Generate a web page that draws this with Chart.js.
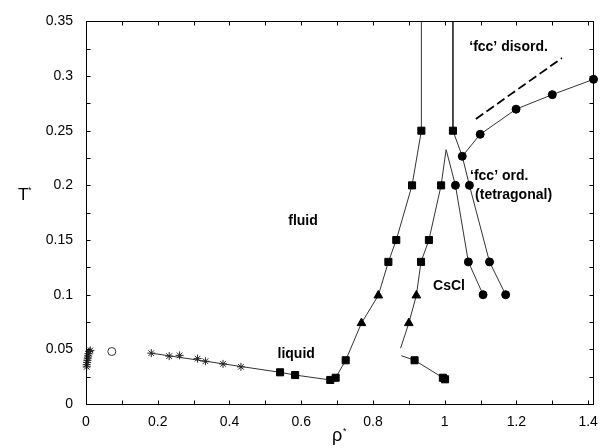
<!DOCTYPE html>
<html>
<head>
<meta charset="utf-8">
<script src="https://cdn.jsdelivr.net/npm/chart.js@4/dist/chart.umd.min.js"></script>
<style>
html,body{margin:0;padding:0;background:#fff;}
canvas{display:block;}
</style>
</head>
<body>
<canvas id="c" width="608" height="448"></canvas>
<script>
// ---- data (rho*, T*) ----
const clusterX = [0.002,0.002,0.003,0.004,0.005,0.006,0.007,0.009,0.012];
const clusterY = [0.034,0.036,0.038,0.040,0.042,0.044,0.046,0.048,0.049];
const starX = [0.182,0.232,0.261,0.311,0.333,0.382,0.432];
const starY = [0.0465,0.0438,0.0445,0.0415,0.0391,0.0367,0.034];
const openX = [0.072];
const openY = [0.048];
const squareX = [0.541,0.583,0.681,0.696,0.724,0.843,0.865,0.909,0.935,0.934,0.956,0.990,1.023,0.916,0.995,1.001];
const squareY = [0.029,0.0265,0.022,0.024,0.040,0.130,0.150,0.200,0.250,0.130,0.150,0.200,0.250,0.040,0.024,0.0226];
const triX = [0.768,0.815,0.900,0.921];
const triY = [0.074,0.0993,0.074,0.0993];
const circX = [1.030,1.066,1.107,1.049,1.069,1.125,1.170,1.099,1.199,1.300,1.415];
const circY = [0.200,0.130,0.100,0.2266,0.200,0.130,0.100,0.2467,0.2697,0.283,0.297];
// boundary lines
const fluidLineX = [0.182,0.541,0.583,0.681,0.696,0.724,0.768,0.815,0.843,0.865,0.909,0.935,0.935];
const fluidLineY = [0.0465,0.029,0.0265,0.022,0.024,0.040,0.074,0.0993,0.130,0.150,0.200,0.250,0.350];
const csclLineX = [0.877,0.900,0.921,0.934,0.956,0.990,1.004,1.030,1.066,1.107];
const csclLineY = [0.051,0.074,0.0993,0.130,0.150,0.200,0.2327,0.200,0.130,0.100];
const fccLineX = [1.023,1.023,1.049,1.069,1.125,1.170];
const fccLineY = [0.350,0.250,0.2266,0.200,0.130,0.100];
const upperLineX = [1.049,1.099,1.199,1.300,1.415];
const upperLineY = [0.2266,0.2467,0.2697,0.283,0.297];
const lowLineX = [0.879,0.916,0.995,1.001];
const lowLineY = [0.0442,0.040,0.024,0.0226];
const dashX = [1.087,1.327];
const dashY = [0.2608,0.3165];
// axis ticks
const xMin = 0, xMax = 1.4142, xStep = 0.2, xMinor = 0.1;
const yMin = 0, yMax = 0.35, yStep = 0.05, yMinor = 0.025;
// labels: [text, rho, T]
const labelText = ["fluid","liquid","CsCl","\u2018fcc\u2019 ord.","(tetragonal)","\u2018fcc\u2019 disord."];
const labelX = [0.605,0.586,1.012,1.152,1.192,1.178];
const labelY = [0.1676,0.0454,0.1075,0.2080,0.1907,0.3266];

const pts = (xs, ys) => xs.map((x,i)=>({x:x, y:ys[i]}));
const FONT = "'Liberation Sans', Arial, Helvetica, sans-serif";

function lineDs(xs, ys, extra) {
  return Object.assign({data: pts(xs,ys), showLine:true, pointRadius:0, borderColor:'#333',
    borderWidth:1, fill:false, order:2, tension:0}, extra||{});
}
function markDs(xs, ys, style, r, extra) {
  return Object.assign({data: pts(xs,ys), showLine:false, pointStyle:style, pointRadius:r,
    backgroundColor:'#000', borderColor:'#000', borderWidth:1, order:1}, extra||{});
}

const framePlugin = {
  id:'frame',
  afterDraw(chart) {
    const ctx = chart.ctx, a = chart.chartArea, xs = chart.scales.x, ys = chart.scales.y;
    const L = Math.round(a.left)+0.5, R = Math.round(a.right)+0.5, T = Math.round(a.top)+0.5, B = Math.round(a.bottom)+0.5;
    ctx.save();
    ctx.strokeStyle = '#000'; ctx.lineWidth = 1;
    ctx.strokeRect(L, T, R-L, B-T);
    ctx.beginPath();
    const tl = 4;
    for (let v = xMin; v <= xMax + 1e-9; v += xMinor) {
      const p = Math.round(xs.getPixelForValue(v)) + 0.5;
      ctx.moveTo(p, B); ctx.lineTo(p, B - tl);
      ctx.moveTo(p, T); ctx.lineTo(p, T + tl);
    }
    for (let v = yMin; v <= yMax + 1e-9; v += yMinor) {
      const p = Math.round(ys.getPixelForValue(v)) + 0.5;
      ctx.moveTo(L, p); ctx.lineTo(L + tl, p);
      ctx.moveTo(R, p); ctx.lineTo(R - tl, p);
    }
    ctx.stroke();
    // region labels
    ctx.fillStyle = '#000';
    ctx.font = "bold 14px " + FONT;
    ctx.textAlign = 'center'; ctx.textBaseline = 'middle';
    labelText.forEach((t,i)=>{
      ctx.fillText(t, xs.getPixelForValue(labelX[i]), ys.getPixelForValue(labelY[i]));
    });
    // axis titles
    ctx.textBaseline = 'alphabetic';
    ctx.font = "17px " + FONT;
    ctx.textAlign = 'left';
    ctx.fillText('T', 18, 200);
    ctx.font = "9px " + FONT;
    ctx.fillText('*', 28, 193);
    ctx.font = "18px " + FONT;
    ctx.fillText('\u03C1', 332, 441);
    ctx.font = "9px " + FONT;
    ctx.fillText('*', 343, 434);
    ctx.restore();
  }
};

const fmt = v => String(+(+v).toFixed(3));

new Chart(document.getElementById('c'), {
  type:'scatter',
  data:{ datasets:[
    markDs(clusterX, clusterY, 'star', 4, {borderColor:'#222', backgroundColor:'#222'}),
    markDs(starX, starY, 'star', 4, {borderColor:'#222', backgroundColor:'#222'}),
    markDs(openX, openY, 'circle', 4, {backgroundColor:'#fff', borderColor:'#333'}),
    markDs(squareX, squareY, 'rect', 5),
    markDs(triX, triY, 'triangle', 5),
    markDs(circX, circY, 'circle', 4),
    lineDs(fluidLineX, fluidLineY),
    lineDs(csclLineX, csclLineY),
    lineDs(fccLineX, fccLineY),
    lineDs(upperLineX, upperLineY),
    lineDs(lowLineX, lowLineY),
    lineDs(dashX, dashY, {borderColor:'#000', borderWidth:1.8, borderDash:[9,4]})
  ]},
  options:{
    responsive:false, animation:false, devicePixelRatio:1,
    clip:false,
    layout:{padding:{top:15, right:11, left:0, bottom:0}},
    plugins:{legend:{display:false}, tooltip:{enabled:false}},
    scales:{
      x:{type:'linear', min:xMin, max:xMax,
        grid:{display:false, drawTicks:false}, border:{display:false},
        ticks:{stepSize:xStep, includeBounds:false, padding:10, color:'#000', maxRotation:0,
          font:{family:FONT, size:14}, callback:fmt},
        afterFit(s){ s.height = 44; }
      },
      y:{type:'linear', min:yMin, max:yMax,
        grid:{display:false, drawTicks:false}, border:{display:false},
        ticks:{stepSize:yStep, includeBounds:false, padding:13, color:'#000',
          font:{family:FONT, size:14}, callback:fmt},
        afterFit(s){ s.width = 86; }
      }
    }
  },
  plugins:[framePlugin]
});
</script>
</body>
</html>
